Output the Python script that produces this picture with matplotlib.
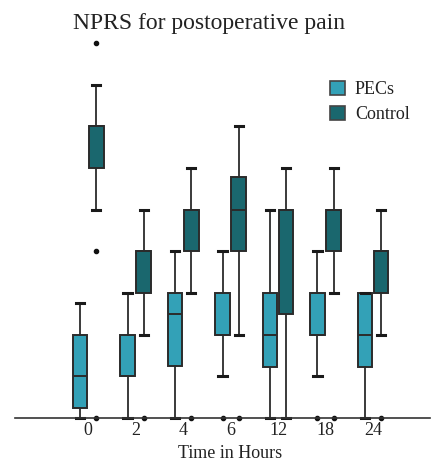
import numpy as np
import matplotlib.pyplot as plt
from matplotlib.patches import Patch

plt.rcParams['font.family'] = ['Liberation Serif', 'DejaVu Serif']

times = ['0', '2', '4', '6', '12', '18', '24']

# NPRS box statistics
pecs_q1 = [0.23, 1, 1.25, 2, 1.23, 2, 1.23]
pecs_med = [1, 1, 2.5, 2, 2, 2, 2]
pecs_q3 = [2, 2, 3, 3, 3, 3, 3]
pecs_lo = [0, 0, 0, 1, 0, 1, 0]
pecs_hi = [2.75, 3, 4, 4, 5, 4, 3]
pecs_out = [[], [], [], [0], [], [0], []]

ctrl_q1 = [6, 3, 4, 4, 2.5, 4, 3]
ctrl_med = [7, 4, 5, 5, 5, 5, 4]
ctrl_q3 = [7, 4, 5, 5.78, 5, 5, 4]
ctrl_lo = [5, 2, 3, 2, 0, 3, 2]
ctrl_hi = [8, 5, 6, 7, 6, 6, 5]
ctrl_out = [[0, 4, 9], [0], [0], [0], [], [0], [0]]

c_pecs = '#33a1b7'
c_ctrl = '#1a676e'
edge = '#2b2b2b'


def make_stats(q1, med, q3, lo, hi, out):
    return [dict(q1=a, med=b, q3=c, whislo=d, whishi=e, fliers=f)
            for a, b, c, d, e, f in zip(q1, med, q3, lo, hi, out)]


fig = plt.figure(figsize=(4.32, 4.61), dpi=100)
ax = fig.add_axes([15 / 432, 0.0753, 415 / 432, 0.8766])

x = np.arange(len(times))
off = 0.17
w = 0.31

for stats, pos, col in [(make_stats(pecs_q1, pecs_med, pecs_q3, pecs_lo, pecs_hi, pecs_out), x - off, c_pecs),
                        (make_stats(ctrl_q1, ctrl_med, ctrl_q3, ctrl_lo, ctrl_hi, ctrl_out), x + off, c_ctrl)]:
    ax.bxp(stats, positions=pos, widths=w, capwidths=w * 0.55, patch_artist=True,
           boxprops=dict(facecolor=col, edgecolor=edge, linewidth=1.4),
           medianprops=dict(color=edge, linewidth=1.4),
           whiskerprops=dict(color=edge, linewidth=1.3),
           capprops=dict(color='#1a1a1a', linewidth=2.2),
           flierprops=dict(marker='o', markersize=3, markerfacecolor='#111111',
                           markeredgecolor='#111111', clip_on=False),
           manage_ticks=False)

for s in ['top', 'right', 'left']:
    ax.spines[s].set_visible(False)
ax.spines['bottom'].set_position(('data', 0))
ax.spines['bottom'].set_color('#333333')
ax.spines['bottom'].set_linewidth(1.2)

ax.set_xlim(-1.54, 7.2)
ax.set_ylim(-0.2, 9.5)
ax.set_xticks(x)
ax.set_xticklabels(times)
ax.tick_params(axis='x', length=0, pad=3, labelsize=13, labelcolor='#222222')
ax.set_yticks([])

fig.text(209 / 432, 1 - 29 / 461, 'NPRS for postoperative pain', fontsize=17,
         ha='center', va='baseline', color='#222222')
fig.text(230 / 432, 1 - 458 / 461, 'Time in Hours', fontsize=13,
         ha='center', va='baseline', color='#222222')

handles = [Patch(facecolor=c_pecs, edgecolor='#444444', linewidth=1.2, label='PECs'),
           Patch(facecolor=c_ctrl, edgecolor='#444444', linewidth=1.2, label='Control')]
fig.legend(handles=handles, loc='upper left', bbox_to_anchor=(330 / 432, 1 - 81 / 461),
           frameon=False, fontsize=13, handlelength=0.83, handleheight=0.83,
           handletextpad=0.55, labelspacing=0.42, borderpad=0, borderaxespad=0,
           labelcolor='#222222')

fig.savefig('out.png', dpi=100)
